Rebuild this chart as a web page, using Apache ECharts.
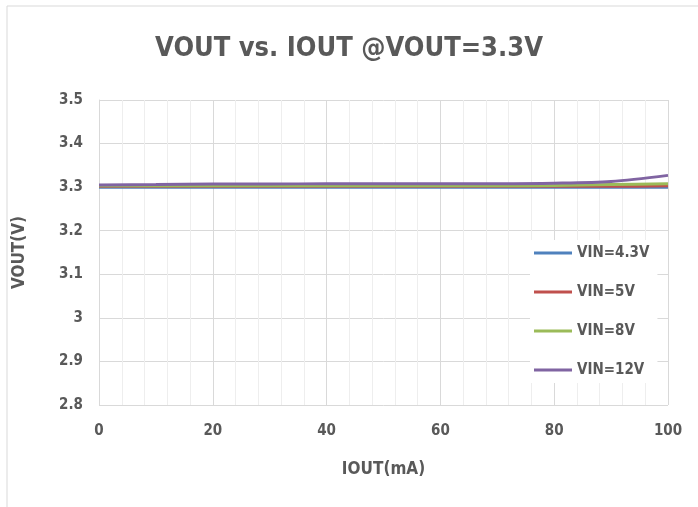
<!DOCTYPE html>
<html>
<head>
<meta charset="utf-8">
<script src="https://cdn.jsdelivr.net/npm/echarts@6/dist/echarts.min.js"></script>
<style>
  html, body { margin: 0; padding: 0; background: #fff; }
  #main { width: 698px; height: 507px; }
</style>
</head>
<body>
<div id="main"></div>
<script>
// IOUT (mA)
var iout = [0, 10, 20, 30, 40, 50, 60, 70, 80, 90, 100];
// VOUT (V) per input voltage
var vin43 = [3.300, 3.300, 3.300, 3.300, 3.300, 3.300, 3.300, 3.300, 3.300, 3.300, 3.300];
var vin5 = [3.302, 3.302, 3.302, 3.302, 3.302, 3.302, 3.302, 3.302, 3.302, 3.302, 3.303];
var vin8 = [3.303, 3.303, 3.303, 3.303, 3.303, 3.303, 3.303, 3.303, 3.304, 3.306, 3.308];
var vin12 = [3.305, 3.306, 3.307, 3.307, 3.308, 3.308, 3.308, 3.308, 3.309, 3.313, 3.327];
var seriesNames = ['VIN=4.3V', 'VIN=5V', 'VIN=8V', 'VIN=12V'];
var seriesData = [vin43, vin5, vin8, vin12];
var colors = ['#4F81BD', '#C0504D', '#9BBB59', '#8064A2'];

var FONT = '"DejaVu Sans Condensed", "Liberation Sans", sans-serif';
var TEXT_COLOR = '#595959';

function pairs(xs, ys) {
    var out = [];
    for (var i = 0; i < xs.length; i++) {
        out.push([xs[i], ys[i]]);
    }
    return out;
}

var myChart = echarts.init(document.getElementById('main'));

var series = [];
for (var i = 0; i < seriesNames.length; i++) {
    series.push({
        name: seriesNames[i],
        type: 'line',
        smooth: 0.3,
        symbol: 'none',
        data: pairs(iout, seriesData[i]),
        lineStyle: { width: 3, color: colors[i] },
        itemStyle: { color: colors[i] },
        z: 2 + i
    });
}

myChart.setOption({
    animation: false,
    backgroundColor: '#fff',
    color: colors,
    graphic: [{
        type: 'rect',
        shape: { x: 7, y: 6, width: 800, height: 600 },
        style: { fill: 'none', stroke: '#d9d9d9', lineWidth: 1 },
        silent: true
    }],
    title: {
        text: 'VOUT vs. IOUT @VOUT=3.3V',
        left: 'center',
        top: 30,
        textStyle: {
            fontFamily: FONT,
            fontWeight: 'bold',
            fontSize: 27,
            color: TEXT_COLOR
        }
    },
    legend: {
        orient: 'vertical',
        left: 530,
        top: 240,
        itemGap: 21,
        itemWidth: 38,
        itemHeight: 3,
        icon: 'rect',
        backgroundColor: '#fff',
        padding: [4, 8, 4, 4],
        data: seriesNames,
        textStyle: {
            fontFamily: FONT,
            fontWeight: 'bold',
            fontSize: 15,
            lineHeight: 18,
            color: TEXT_COLOR
        }
    },
    grid: {
        left: 99,
        right: 30,
        top: 100,
        bottom: 102
    },
    xAxis: {
        type: 'value',
        min: 0,
        max: 100,
        interval: 20,
        name: 'IOUT(mA)',
        nameLocation: 'middle',
        nameGap: 56,
        nameTextStyle: {
            fontFamily: FONT,
            fontWeight: 'bold',
            fontSize: 17,
            color: TEXT_COLOR
        },
        axisLine: { show: false },
        axisTick: { show: false },
        axisLabel: {
            margin: 19,
            fontFamily: FONT,
            fontWeight: 'bold',
            fontSize: 15,
            color: TEXT_COLOR
        },
        splitLine: { show: true, lineStyle: { color: '#d9d9d9', width: 1 } },
        minorTick: { show: false, splitNumber: 5 },
        minorSplitLine: { show: true, lineStyle: { color: '#eeeeee', width: 1 } }
    },
    yAxis: {
        type: 'value',
        min: 2.8,
        max: 3.5,
        interval: 0.1,
        name: 'VOUT(V)',
        nameLocation: 'middle',
        nameGap: 71,
        nameTextStyle: {
            fontFamily: FONT,
            fontWeight: 'bold',
            fontSize: 17,
            color: TEXT_COLOR
        },
        axisLine: { show: true, lineStyle: { color: '#d9d9d9', width: 1 } },
        axisTick: { show: false },
        axisLabel: {
            margin: 16,
            fontFamily: FONT,
            fontWeight: 'bold',
            fontSize: 15,
            color: TEXT_COLOR,
            formatter: function (v) { return String(Number(v.toFixed(1))); }
        },
        splitLine: { show: true, lineStyle: { color: '#d9d9d9', width: 1 } }
    },
    series: series
});
</script>
</body>
</html>
